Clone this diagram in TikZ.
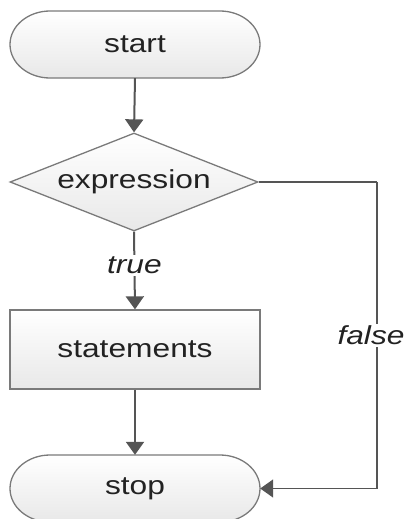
\documentclass[tikz,border=0pt]{standalone}
\usepackage{fontspec}
\setmainfont[FakeStretch=1.22]{Liberation Sans}
\usetikzlibrary{shapes.geometric,arrows.meta,shadings}
\definecolor{edgegray}{HTML}{7A7A7A}
\definecolor{linegray}{HTML}{555555}
\definecolor{txt}{HTML}{222222}
\tikzset{
  boxfill/.style={top color=white,bottom color=black!9,draw=edgegray,line width=1.3pt},
  lbl/.style={font=\fontsize{26}{30}\selectfont,text=txt},
  conn/.style={draw=linegray,line width=2pt,-{Triangle[width=18pt,length=13pt]}},
  plainconn/.style={draw=linegray,line width=1.6pt},
  edgelbl/.style={lbl,font=\fontsize{26}{30}\selectfont\itshape,fill=white,inner sep=2pt},
}
\begin{document}
\begin{tikzpicture}[x=1pt,y=1pt]
\useasboundingbox (0,0) rectangle (406,-519);
% start terminal
\path[boxfill] (50,-11) -- (220,-11) arc[start angle=90,end angle=-90,x radius=40,y radius=33.5]
  -- (50,-78) arc[start angle=270,end angle=90,x radius=40,y radius=33.5] -- cycle;
\node[lbl,minimum width=250pt,minimum height=67pt,inner sep=0] (start) at (135,-44.5) {start};
% decision
\node[lbl,diamond,boxfill,aspect=2.5,minimum width=248pt,minimum height=98pt,inner sep=0] (expr) at (134,-182) {expression};
% process
\node[lbl,rectangle,boxfill,minimum width=250pt,minimum height=79pt,inner sep=0] (stmt) at (135,-349.5) {statements};
% stop terminal
\path[boxfill] (50,-455) -- (220,-455) arc[start angle=90,end angle=-90,x radius=40,y radius=33.5]
  -- (50,-522) arc[start angle=270,end angle=90,x radius=40,y radius=33.5] -- cycle;
\node[lbl,minimum width=250pt,minimum height=67pt,inner sep=0] (stop) at (135,-488.5) {stop};
\coordinate (fr) at (377,-182);
\coordinate (fb) at (377,-488.5);
% connectors
\draw[conn] (start.south) -- (expr.north);
\draw[conn] (expr.south) -- node[edgelbl,pos=0.43] {true} (stmt.north);
\draw[conn] (stmt.south) -- (stop.north);
\draw[plainconn] (expr.east) -- (fr);
\draw[conn,line width=1.6pt] (fr) -- node[edgelbl,pos=0.5,xshift=-6pt] {false} (fb) -- (stop.east);
\end{tikzpicture}
\end{document}
